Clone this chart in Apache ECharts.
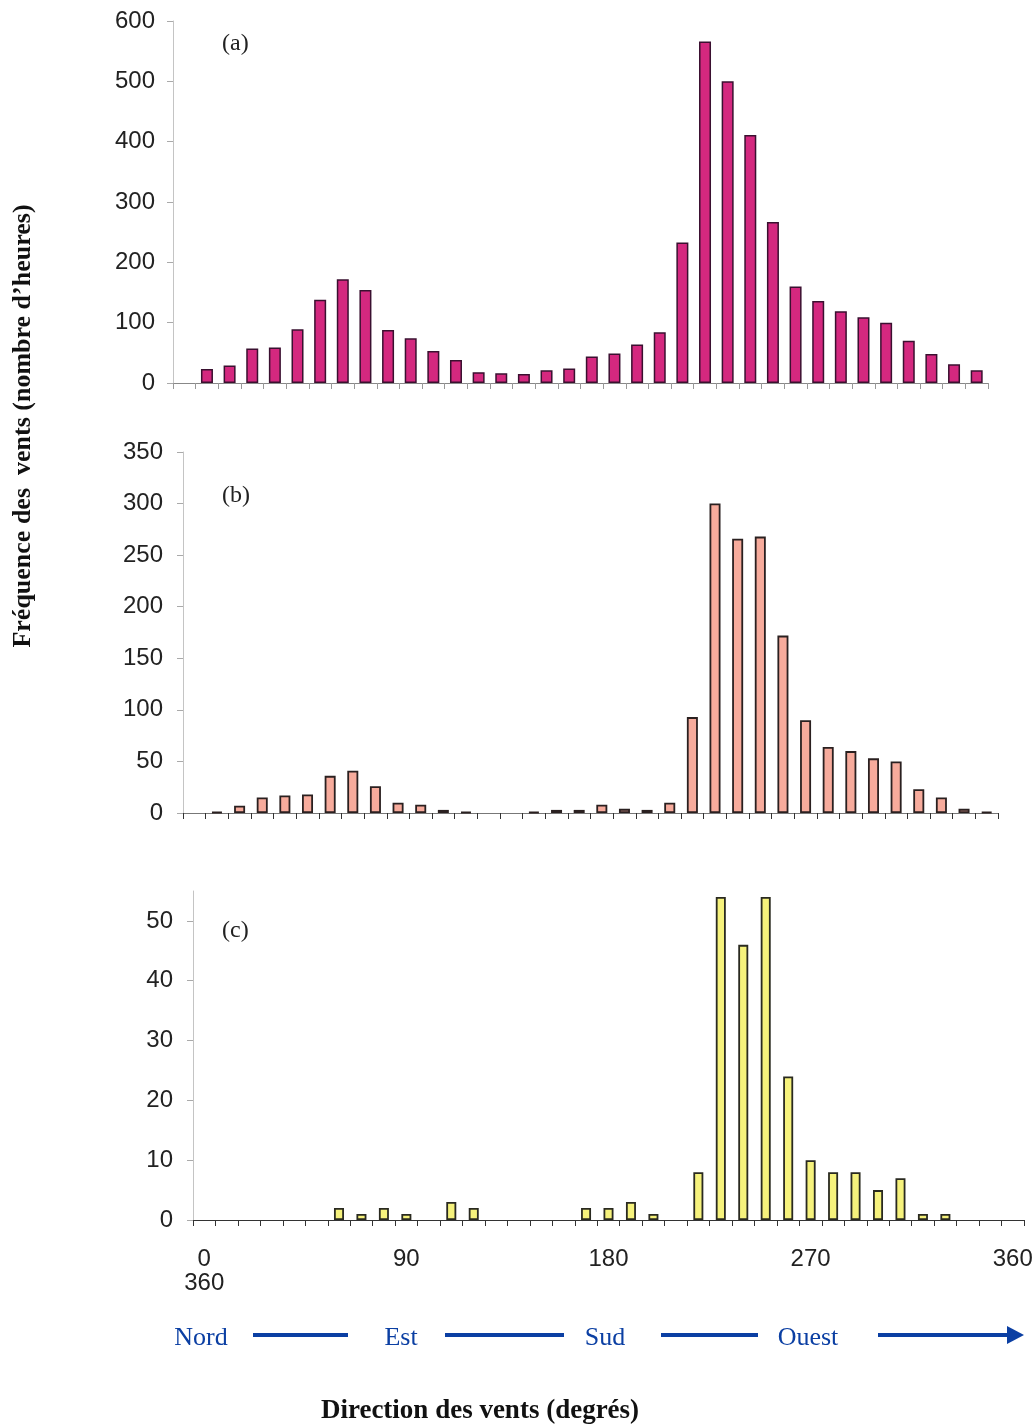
<!DOCTYPE html>
<html><head><meta charset="utf-8">
<script src="https://cdn.jsdelivr.net/npm/echarts@6/dist/echarts.min.js"></script>
<style>html,body{margin:0;padding:0;background:#fff}#c{width:1036px;height:1427px}</style>
</head><body><div id="c"></div><script>
// Direction categories (degrees)
const categoriesAB = ['0','10','20','30','40','50','60','70','80','90','100','110','120','130','140','150','160','170','180','190','200','210','220','230','240','250','260','270','280','290','300','310','320','330','340','350'];
const categoriesC = ['0','10','20','30','40','50','60','70','80','90','100','110','120','130','140','150','160','170','180','190','200','210','220','230','240','250','260','270','280','290','300','310','320','330','340','350','360'];
// Hours per direction
const valuesA = [null,23,29,57,59,89,138,172,154,88,74,53,38,18,16,15,21,24,44,49,64,84,233,566,500,411,267,160,136,119,109,100,70,48,31,21];
const valuesB = [null,1,7,15,17,18,36,41,26,10,8,3,1,null,null,1,3,3,8,4,3,10,93,300,266,268,172,90,64,60,53,50,23,15,4,1];
const valuesC = [null,null,null,null,null,null,2,1,2,1,null,3,2,null,null,null,null,2,2,3,1,null,8,54,46,54,24,10,8,8,5,7,1,1,null,null,null];
// Panel labels and texts
const panelLabels = ['(a)','(b)','(c)'];
const yTitle = 'Fréquence des  vents (nombre d\u2019heures)';
const xTitle = 'Direction des vents (degrés)';
const compass = ['Nord','Est','Sud','Ouest'];

const chart = echarts.init(document.getElementById('c'));
const labelFont = {fontFamily:'Liberation Sans, Arial, sans-serif', fontSize:24, color:'#222'};
const blue = '#0b3fa3';

function yAxis(gi, max, interval, margin, hideMax){
  return {type:'value', gridIndex:gi, min:0, max:max, interval:interval,
    axisLine:{show:true, lineStyle:{color:'#c4c4c4', width:1}},
    axisTick:{show:true, length:6, lineStyle:{color:'#aaa'}},
    splitLine:{show:false},
    axisLabel:Object.assign({margin:margin, showMaxLabel: hideMax ? false : true}, labelFont)};
}
function xAxis(gi, cats, showLabels, lineColor, tickColor){
  return {type:'category', gridIndex:gi, data:cats,
    axisLine:{show:true, lineStyle:{color:lineColor, width:1.2}},
    axisTick:{show:true, length:6, interval:0, lineStyle:{color:tickColor}},
    axisLabel: showLabels ? Object.assign({interval:8, margin:27, lineHeight:24,
      formatter:v => v === '0' ? '0\n360' : v}, labelFont) : {show:false}};
}

const option = {
  animation:false,
  backgroundColor:'#fff',
  grid:[
    {left:173, width:815, top:21, height:362},
    {left:183, width:815, top:452, height:361},
    {left:193, width:831, top:891, height:329}
  ],
  xAxis:[
    xAxis(0, categoriesAB, false, '#888', '#999'),
    xAxis(1, categoriesAB, false, '#777', '#333'),
    xAxis(2, categoriesC, true, '#333', '#333')
  ],
  yAxis:[
    yAxis(0, 600, 100, 18, false),
    yAxis(1, 350, 50, 20, false),
    yAxis(2, 55, 10, 20, true)
  ],
  series:[
    {type:'bar', xAxisIndex:0, yAxisIndex:0, data:valuesA, barWidth:12,
     itemStyle:{color:'#d4287f', borderColor:'#3a1030', borderWidth:1.5}},
    {type:'bar', xAxisIndex:1, yAxisIndex:1, data:valuesB, barWidth:11,
     itemStyle:{color:'#f7ab9c', borderColor:'#2a2020', borderWidth:1.8}},
    {type:'bar', xAxisIndex:2, yAxisIndex:2, data:valuesC, barWidth:10,
     itemStyle:{color:'#f6f27c', borderColor:'#2a2a20', borderWidth:1.8}}
  ],
  graphic:[
    {type:'text', left:222, top:32, style:{text:panelLabels[0], font:'24px "Liberation Serif", serif', fill:'#222'}},
    {type:'text', left:222, top:484, style:{text:panelLabels[1], font:'24px "Liberation Serif", serif', fill:'#222'}},
    {type:'text', left:222, top:919, style:{text:panelLabels[2], font:'24px "Liberation Serif", serif', fill:'#222'}},
    {type:'text', x:23, y:426, rotation:Math.PI/2,
     style:{text:yTitle, font:'bold 26px "Liberation Serif", serif', fill:'#111', align:'center', verticalAlign:'middle'}},
    {type:'text', x:480, y:1411, style:{text:xTitle, font:'bold 27px "Liberation Serif", serif', fill:'#111', align:'center', verticalAlign:'middle'}},
    {type:'text', x:201, y:1338, style:{text:compass[0], font:'26px "Liberation Serif", serif', fill:blue, align:'center', verticalAlign:'middle'}},
    {type:'text', x:401, y:1338, style:{text:compass[1], font:'26px "Liberation Serif", serif', fill:blue, align:'center', verticalAlign:'middle'}},
    {type:'text', x:605, y:1338, style:{text:compass[2], font:'26px "Liberation Serif", serif', fill:blue, align:'center', verticalAlign:'middle'}},
    {type:'text', x:808, y:1338, style:{text:compass[3], font:'26px "Liberation Serif", serif', fill:blue, align:'center', verticalAlign:'middle'}},
    {type:'line', shape:{x1:253, y1:1335, x2:348, y2:1335}, style:{stroke:blue, lineWidth:4}},
    {type:'line', shape:{x1:445, y1:1335, x2:564, y2:1335}, style:{stroke:blue, lineWidth:4}},
    {type:'line', shape:{x1:661, y1:1335, x2:758, y2:1335}, style:{stroke:blue, lineWidth:4}},
    {type:'line', shape:{x1:878, y1:1335, x2:1010, y2:1335}, style:{stroke:blue, lineWidth:4}},
    {type:'polygon', shape:{points:[[1007,1326],[1024,1335],[1007,1344]]}, style:{fill:blue}}
  ]
};
chart.setOption(option);
</script></body></html>
